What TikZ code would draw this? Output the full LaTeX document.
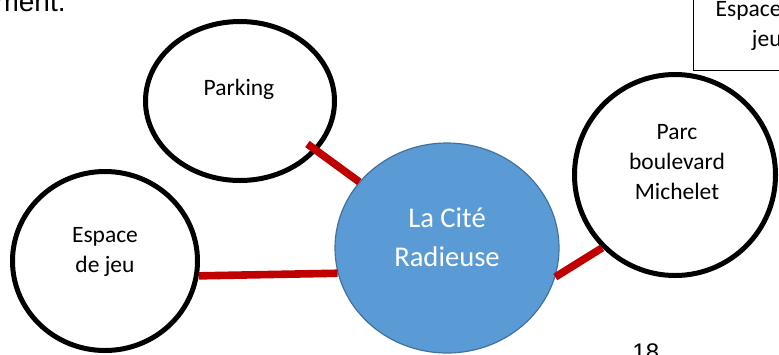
\documentclass[tikz,border=0pt]{standalone}
\usepackage{fontspec}
\setmainfont{Carlito}
\newfontfamily\bodyfont{Liberation Sans}
\usepackage{tikz}
\usetikzlibrary{shapes.geometric}
\definecolor{citeblue}{HTML}{5B9BD5}
\definecolor{citeedge}{HTML}{41719C}
\definecolor{linkred}{HTML}{C00000}
\tikzset{
  ring/.style={draw, ellipse, line width=2.5pt, inner sep=0pt},
  lbl/.style={align=center, inner sep=0pt, font=\fontsize{11.75}{15}\selectfont},
  link/.style={draw=linkred, line width=3.8pt},
}

\begin{document}
\begin{tikzpicture}[x=0.5pt,y=-0.5pt]
\useasboundingbox (0,0) rectangle (779,354);

\node[ring, minimum width=94.5pt, minimum height=79.5pt] (parking) at (240,101) {};
\node[ring, minimum width=92.5pt, minimum height=89.5pt] (espace) at (105,261) {};
\node[ring, minimum width=100.5pt, minimum height=100.5pt] (parc) at (675,175) {};
\node[ellipse, draw=citeedge, fill=citeblue, line width=0.6pt, inner sep=0pt,
      minimum width=112pt, minimum height=105pt] (cite) at (447,248) {};

    \node[lbl] (parkingtxt) at (239,89) {Parking};
    \node[lbl] (espacetxt) at (105,252) {Espace\\de jeu};
    \node[lbl] (parctxt) at (677,162) {Parc\\boulevard\\Michelet};
    \node[lbl, text=white, font=\fontsize{14.3}{19.5}\selectfont] (citetxt) at (447,237) {La Cit\'e\\Radieuse};

\draw [link, shorten <=-5.9pt] (parking.-33) -- (cite.143);
\draw [link] (espace.-9) -- (cite.193);
\draw [link] (cite.-15) -- (parc.-135);

\draw [line width=0.5pt] (693,-10) rectangle (800,70);
    \node[lbl, align=right, anchor=base east] (boxtxt) at (782,46) {Espace\\jeu};
    \node[anchor=base east, inner sep=0pt, font=\bodyfont\fontsize{14}{17}\selectfont] (prevline) at (66,11) {ment.};
    \node[anchor=base west, inner sep=0pt, font=\bodyfont\fontsize{12}{14}\selectfont] (pagenum) at (632,360) {18};
\end{tikzpicture}
\end{document}
